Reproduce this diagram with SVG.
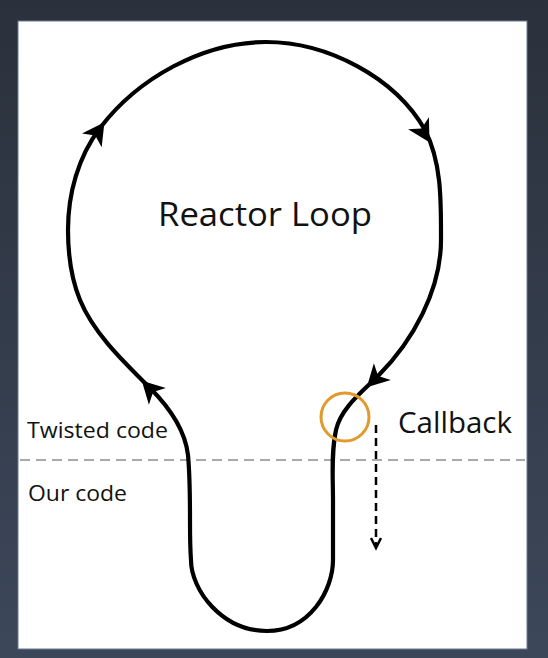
<svg xmlns="http://www.w3.org/2000/svg" width="548" height="658" viewBox="0 0 548 658">
<defs>
<linearGradient id="bg" x1="0" y1="0" x2="0" y2="1">
<stop offset="0" stop-color="#2a313c"/>
<stop offset="1" stop-color="#3c4759"/>
</linearGradient>
<path id="barb" d="M13,0 L-9,-12 L-3,0 L-9,12 Z" fill="#000"/>
<style>
.lbl{font-family:"Open Sans","Noto Sans","Liberation Sans",sans-serif;fill:#111}
.loop{fill:none;stroke:#000;stroke-width:4.2;stroke-linecap:round;stroke-linejoin:round}
</style>
</defs>
<rect x="0" y="0" width="548" height="658" fill="url(#bg)"/>
<rect x="18" y="21" width="509" height="628" fill="#fff" stroke="#6a7b94" stroke-width="1"/>
<line x1="20" y1="460" x2="525" y2="460" stroke="#aaaaaa" stroke-width="2" stroke-dasharray="10 6"/>
<g id="connectors">
<path class="loop" d="M267,631 C222,631 191,590 191,560 C190,547 190,533 190,520 C190,498 190,477 188,455 C185,429 168,406 150,388 C124,362 94,334 80,300 C71,278 68,254 68,230 C68,194 78,157 100,128 C138,78 203,42 266,42 C327,42 395,77 425,130 C442,163 441,203 441,240 C441,290 413,341 378,376 C362,392 341,408 336,430 C331,453 333,477 333,500 C333,520 333,540 333,560 C333,590 310,631 267,631 Z"/>
<use href="#barb" transform="translate(97,133) rotate(-55)"/>
<use href="#barb" transform="translate(423,131) rotate(60)"/>
<use href="#barb" transform="translate(376,378) rotate(135)"/>
<use href="#barb" transform="translate(151,390) rotate(-135)"/>
<line x1="376" y1="425" x2="376" y2="545" stroke="#000" stroke-width="2.5" stroke-dasharray="8 5"/>
<polyline points="371,538 376,548 381,538" fill="none" stroke="#000" stroke-width="2.5" stroke-linejoin="miter"/>
</g>
<g id="callback-marker">
<circle cx="345" cy="417" r="24" fill="none" stroke="#e39a2d" stroke-width="3"/>
</g>
<g id="reactor-loop"><text class="lbl" x="158" y="226" font-size="33" textLength="214" lengthAdjust="spacingAndGlyphs">Reactor Loop</text></g>
<g id="callback"><text class="lbl" x="398" y="433" font-size="28.5" textLength="114" lengthAdjust="spacingAndGlyphs">Callback</text></g>
<g id="twisted-code"><text class="lbl" x="27" y="438" font-size="22" textLength="141" lengthAdjust="spacingAndGlyphs">Twisted code</text></g>
<g id="our-code"><text class="lbl" x="28" y="501" font-size="22" textLength="99" lengthAdjust="spacingAndGlyphs">Our code</text></g>
</svg>
